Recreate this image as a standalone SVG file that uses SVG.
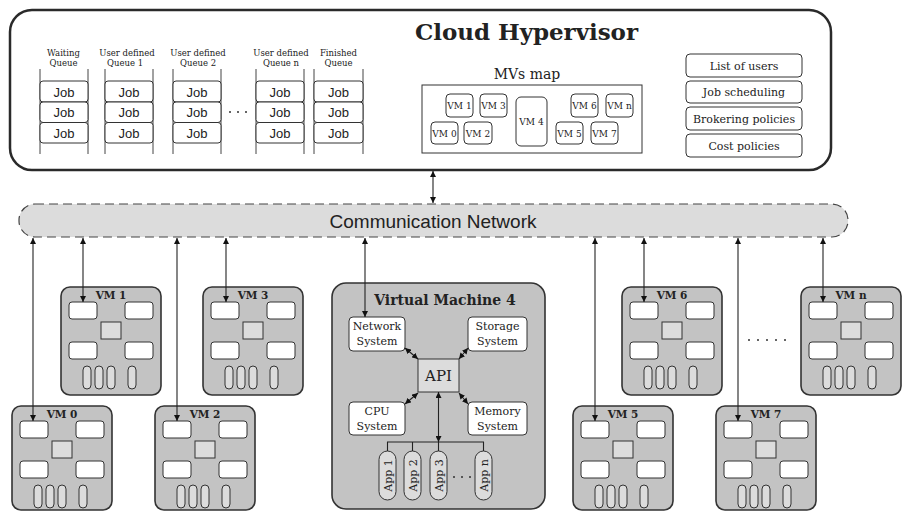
<svg xmlns="http://www.w3.org/2000/svg" xmlns:xlink="http://www.w3.org/1999/xlink" width="903" height="511" viewBox="0 0 903 511">
<style>
.serif{font-family:"DejaVu Serif","Liberation Serif",serif;fill:#222}
.sans{font-family:"Liberation Sans",Arial,sans-serif;fill:#222}
.bold{font-family:"DejaVu Serif","Liberation Serif",serif;font-weight:bold;fill:#222}
.hv{fill:#fff;stroke:#2a2a2a;stroke-width:2.5}
.job{fill:#fff;stroke:#333;stroke-width:1}
.qline{stroke:#444;stroke-width:1;fill:none}
.box{fill:#fff;stroke:#333;stroke-width:1}
.vm{fill:#c3c3c3;stroke:#333;stroke-width:1.6}
.w{fill:#fff;stroke:#333;stroke-width:1}
.g{fill:#dcdcdc;stroke:#333;stroke-width:1}
.net{fill:#dcdcdc;stroke:#444;stroke-width:1.2;stroke-dasharray:9 5}
.conn{stroke:#222;stroke-width:1.1;fill:none}
.dots{stroke:#333;stroke-width:1.3;fill:none}
</style>
<defs>
<marker id="ah" viewBox="0 0 10 10" refX="10" refY="5" markerWidth="6" markerHeight="6" markerUnits="userSpaceOnUse" orient="auto-start-reverse">
<path d="M0,0 L10,5 L0,10 z" fill="#111"/>
</marker>
<g id="vminner">
<rect class="w" x="8" y="15" width="28" height="17" rx="3"/>
<rect class="w" x="64" y="15" width="28" height="17" rx="3"/>
<rect class="g" x="40" y="35" width="20" height="17"/>
<rect class="w" x="8" y="55" width="28" height="17" rx="3"/>
<rect class="w" x="64" y="55" width="28" height="17" rx="3"/>
<rect class="g" x="22" y="79" width="8" height="23" rx="4"/>
<rect class="g" x="34" y="79" width="8" height="23" rx="4"/>
<rect class="g" x="46" y="79" width="8" height="23" rx="4"/>
<rect class="g" x="67" y="79" width="8" height="23" rx="4"/>
</g>
</defs>

<g id="hypervisor">
<rect class="hv" x="10" y="10" width="821" height="160" rx="22"/>
<text class="bold" x="415" y="40" font-size="23" textLength="223" lengthAdjust="spacing">Cloud Hypervisor</text>
</g>

<g id="queues">
<g id="q-waiting">
<text class="serif" font-size="8.5" text-anchor="middle" x="63.5" y="56">Waiting</text>
<text class="serif" font-size="8.5" text-anchor="middle" x="63.5" y="66">Queue</text>
<line class="qline" x1="40" y1="69" x2="40" y2="154"/><line class="qline" x1="88" y1="69" x2="88" y2="154"/>
<rect class="job" x="40" y="81" width="48" height="21" rx="3"/><rect class="job" x="40" y="102" width="48" height="20.5" rx="3"/><rect class="job" x="40" y="122.5" width="48" height="20.5" rx="3"/>
<text class="sans" font-size="13" text-anchor="middle" x="64" y="96.5">Job</text><text class="sans" font-size="13" text-anchor="middle" x="64" y="117">Job</text><text class="sans" font-size="13" text-anchor="middle" x="64" y="137.5">Job</text>
</g>
<g id="q-user1">
<text class="serif" font-size="8.5" text-anchor="middle" x="127" y="56">User defined</text>
<text class="serif" font-size="8.5" text-anchor="middle" x="125" y="66">Queue 1</text>
<line class="qline" x1="105" y1="69" x2="105" y2="154"/><line class="qline" x1="153" y1="69" x2="153" y2="154"/>
<rect class="job" x="105" y="81" width="48" height="21" rx="3"/><rect class="job" x="105" y="102" width="48" height="20.5" rx="3"/><rect class="job" x="105" y="122.5" width="48" height="20.5" rx="3"/>
<text class="sans" font-size="13" text-anchor="middle" x="129" y="96.5">Job</text><text class="sans" font-size="13" text-anchor="middle" x="129" y="117">Job</text><text class="sans" font-size="13" text-anchor="middle" x="129" y="137.5">Job</text>
</g>
<g id="q-user2">
<text class="serif" font-size="8.5" text-anchor="middle" x="198" y="56">User defined</text>
<text class="serif" font-size="8.5" text-anchor="middle" x="198" y="66">Queue 2</text>
<line class="qline" x1="173" y1="69" x2="173" y2="154"/><line class="qline" x1="221" y1="69" x2="221" y2="154"/>
<rect class="job" x="173" y="81" width="48" height="21" rx="3"/><rect class="job" x="173" y="102" width="48" height="20.5" rx="3"/><rect class="job" x="173" y="122.5" width="48" height="20.5" rx="3"/>
<text class="sans" font-size="13" text-anchor="middle" x="197" y="96.5">Job</text><text class="sans" font-size="13" text-anchor="middle" x="197" y="117">Job</text><text class="sans" font-size="13" text-anchor="middle" x="197" y="137.5">Job</text>
</g>
<line class="dots" x1="229" y1="112" x2="248" y2="112" stroke-dasharray="2 6"/>
<g id="q-usern">
<text class="serif" font-size="8.5" text-anchor="middle" x="281" y="56">User defined</text>
<text class="serif" font-size="8.5" text-anchor="middle" x="281" y="66">Queue n</text>
<line class="qline" x1="256" y1="69" x2="256" y2="154"/><line class="qline" x1="304" y1="69" x2="304" y2="154"/>
<rect class="job" x="256" y="81" width="48" height="21" rx="3"/><rect class="job" x="256" y="102" width="48" height="20.5" rx="3"/><rect class="job" x="256" y="122.5" width="48" height="20.5" rx="3"/>
<text class="sans" font-size="13" text-anchor="middle" x="280" y="96.5">Job</text><text class="sans" font-size="13" text-anchor="middle" x="280" y="117">Job</text><text class="sans" font-size="13" text-anchor="middle" x="280" y="137.5">Job</text>
</g>
<g id="q-finished">
<text class="serif" font-size="8.5" text-anchor="middle" x="338.5" y="56">Finished</text>
<text class="serif" font-size="8.5" text-anchor="middle" x="338.5" y="66">Queue</text>
<line class="qline" x1="314" y1="69" x2="314" y2="154"/><line class="qline" x1="363" y1="69" x2="363" y2="154"/>
<rect class="job" x="314" y="81" width="49" height="21" rx="3"/><rect class="job" x="314" y="102" width="49" height="20.5" rx="3"/><rect class="job" x="314" y="122.5" width="49" height="20.5" rx="3"/>
<text class="sans" font-size="13" text-anchor="middle" x="338.5" y="96.5">Job</text><text class="sans" font-size="13" text-anchor="middle" x="338.5" y="117">Job</text><text class="sans" font-size="13" text-anchor="middle" x="338.5" y="137.5">Job</text>
</g>
</g>

<g id="vms-map">
<text class="serif" font-size="14" text-anchor="middle" x="527" y="79">MVs map</text>
<rect x="422" y="85" width="220" height="68" fill="#fff" stroke="#333" stroke-width="1"/>
<rect class="box" x="446" y="94" width="27" height="23" rx="4"/><text class="serif" font-size="9" text-anchor="middle" x="459.5" y="109">VM 1</text>
<rect class="box" x="480" y="94" width="27" height="23" rx="4"/><text class="serif" font-size="9" text-anchor="middle" x="493.5" y="109">VM 3</text>
<rect class="box" x="431" y="122" width="27" height="22" rx="4"/><text class="serif" font-size="9" text-anchor="middle" x="444.5" y="136.5">VM 0</text>
<rect class="box" x="464" y="122" width="28" height="22" rx="4"/><text class="serif" font-size="9" text-anchor="middle" x="478" y="136.5">VM 2</text>
<rect class="box" x="516" y="97" width="31" height="49" rx="5"/><text class="serif" font-size="9" text-anchor="middle" x="531.5" y="125">VM 4</text>
<rect class="box" x="571" y="94" width="27" height="23" rx="4"/><text class="serif" font-size="9" text-anchor="middle" x="584.5" y="109">VM 6</text>
<rect class="box" x="606" y="94" width="27" height="23" rx="4"/><text class="serif" font-size="9" text-anchor="middle" x="619.5" y="109">VM n</text>
<rect class="box" x="556" y="122" width="27" height="22" rx="4"/><text class="serif" font-size="9" text-anchor="middle" x="569.5" y="136.5">VM 5</text>
<rect class="box" x="591" y="122" width="27" height="22" rx="4"/><text class="serif" font-size="9" text-anchor="middle" x="604.5" y="136.5">VM 7</text>
</g>

<g id="policies">
<rect class="box" x="686" y="54" width="116" height="23" rx="4"/><text class="serif" font-size="11" text-anchor="middle" x="744" y="69.5">List of users</text>
<rect class="box" x="686" y="81" width="116" height="22" rx="4"/><text class="serif" font-size="11" text-anchor="middle" x="744" y="96">Job scheduling</text>
<rect class="box" x="686" y="107" width="116" height="23" rx="4"/><text class="serif" font-size="11" text-anchor="middle" x="744" y="122.5">Brokering policies</text>
<rect class="box" x="686" y="134" width="116" height="23" rx="4"/><text class="serif" font-size="11" text-anchor="middle" x="744" y="149.5">Cost policies</text>
</g>

<g id="network">
<rect class="net" x="19" y="204" width="829" height="33" rx="16"/>
<text class="sans" font-size="19" text-anchor="middle" x="433" y="228">Communication Network</text>
</g>

<g id="vm1"><rect class="vm" x="61" y="287" width="100" height="108" rx="9"/><use xlink:href="#vminner" x="61" y="287"/><text class="bold" font-size="10.5" text-anchor="middle" x="111" y="299">VM 1</text></g>
<g id="vm3"><rect class="vm" x="203" y="287" width="100" height="108" rx="9"/><use xlink:href="#vminner" x="203" y="287"/><text class="bold" font-size="10.5" text-anchor="middle" x="253" y="299">VM 3</text></g>
<g id="vm0"><rect class="vm" x="12" y="406" width="100" height="104" rx="9"/><use xlink:href="#vminner" x="12" y="406"/><text class="bold" font-size="10.5" text-anchor="middle" x="62" y="418">VM 0</text></g>
<g id="vm2"><rect class="vm" x="155" y="406" width="100" height="104" rx="9"/><use xlink:href="#vminner" x="155" y="406"/><text class="bold" font-size="10.5" text-anchor="middle" x="205" y="418">VM 2</text></g>
<g id="vm6"><rect class="vm" x="622" y="287" width="100" height="108" rx="9"/><use xlink:href="#vminner" x="622" y="287"/><text class="bold" font-size="10.5" text-anchor="middle" x="672" y="299">VM 6</text></g>
<g id="vmn"><rect class="vm" x="801" y="287" width="100" height="108" rx="9"/><use xlink:href="#vminner" x="801" y="287"/><text class="bold" font-size="10.5" text-anchor="middle" x="851" y="299">VM n</text></g>
<g id="vm5"><rect class="vm" x="573" y="406" width="100" height="104" rx="9"/><use xlink:href="#vminner" x="573" y="406"/><text class="bold" font-size="10.5" text-anchor="middle" x="623" y="418">VM 5</text></g>
<g id="vm7"><rect class="vm" x="716" y="406" width="100" height="104" rx="9"/><use xlink:href="#vminner" x="716" y="406"/><text class="bold" font-size="10.5" text-anchor="middle" x="766" y="418">VM 7</text></g>
<line class="dots" x1="748" y1="340" x2="787" y2="340" stroke-dasharray="2 7"/>

<g id="vm4">
<rect class="vm" x="332" y="283" width="213" height="226" rx="14"/>
<text class="bold" font-size="14" text-anchor="middle" x="445" y="305">Virtual Machine 4</text>
<g id="net-sys"><rect class="w" x="349" y="317" width="56" height="34" rx="4"/><text class="serif" font-size="11" text-anchor="middle" x="377" y="330">Network</text><text class="serif" font-size="11" text-anchor="middle" x="377" y="345">System</text></g>
<g id="sto-sys"><rect class="w" x="468" y="317" width="59" height="34" rx="4"/><text class="serif" font-size="11" text-anchor="middle" x="497.5" y="330">Storage</text><text class="serif" font-size="11" text-anchor="middle" x="497.5" y="345">System</text></g>
<g id="api"><rect class="g" x="418" y="359" width="41" height="33"/><text class="serif" font-size="15" text-anchor="middle" x="438.5" y="381">API</text></g>
<g id="cpu-sys"><rect class="w" x="349" y="402" width="56" height="33" rx="4"/><text class="serif" font-size="11" text-anchor="middle" x="377" y="415">CPU</text><text class="serif" font-size="11" text-anchor="middle" x="377" y="430">System</text></g>
<g id="mem-sys"><rect class="w" x="468" y="402" width="59" height="33" rx="4"/><text class="serif" font-size="11" text-anchor="middle" x="497.5" y="415">Memory</text><text class="serif" font-size="11" text-anchor="middle" x="497.5" y="430">System</text></g>
<g id="apps">
<rect class="g" x="379" y="451" width="17" height="49" rx="8.5"/><text class="serif" font-size="11" text-anchor="middle" transform="translate(391.5,475.5) rotate(-90)">App 1</text>
<rect class="g" x="404" y="451" width="17" height="49" rx="8.5"/><text class="serif" font-size="11" text-anchor="middle" transform="translate(416.5,475.5) rotate(-90)">App 2</text>
<rect class="g" x="430" y="451" width="17" height="49" rx="8.5"/><text class="serif" font-size="11" text-anchor="middle" transform="translate(442.5,475.5) rotate(-90)">App 3</text>
<rect class="g" x="475" y="451" width="17" height="49" rx="8.5"/><text class="serif" font-size="11" text-anchor="middle" transform="translate(487.5,475.5) rotate(-90)">App n</text>
<line class="dots" x1="453" y1="477" x2="472" y2="477" stroke-dasharray="2 6"/>
</g>
</g>

<g id="connectors">
<line class="conn" x1="433" y1="171" x2="433" y2="203" marker-start="url(#ah)" marker-end="url(#ah)"/>
<line class="conn" x1="33" y1="238" x2="33" y2="421" marker-start="url(#ah)" marker-end="url(#ah)"/>
<line class="conn" x1="83" y1="238" x2="83" y2="302" marker-start="url(#ah)" marker-end="url(#ah)"/>
<line class="conn" x1="177" y1="238" x2="177" y2="421" marker-start="url(#ah)" marker-end="url(#ah)"/>
<line class="conn" x1="226" y1="238" x2="226" y2="302" marker-start="url(#ah)" marker-end="url(#ah)"/>
<line class="conn" x1="365" y1="238" x2="365" y2="317" marker-start="url(#ah)" marker-end="url(#ah)"/>
<line class="conn" x1="595" y1="238" x2="595" y2="421" marker-start="url(#ah)" marker-end="url(#ah)"/>
<line class="conn" x1="644" y1="238" x2="644" y2="302" marker-start="url(#ah)" marker-end="url(#ah)"/>
<line class="conn" x1="738" y1="238" x2="738" y2="421" marker-start="url(#ah)" marker-end="url(#ah)"/>
<line class="conn" x1="823" y1="238" x2="823" y2="302" marker-start="url(#ah)" marker-end="url(#ah)"/>
<line class="conn" x1="405" y1="348" x2="418" y2="359" marker-start="url(#ah)" marker-end="url(#ah)"/>
<line class="conn" x1="468" y1="348" x2="459" y2="359" marker-start="url(#ah)" marker-end="url(#ah)"/>
<line class="conn" x1="405" y1="404" x2="418" y2="393" marker-start="url(#ah)" marker-end="url(#ah)"/>
<line class="conn" x1="468" y1="404" x2="459" y2="393" marker-start="url(#ah)" marker-end="url(#ah)"/>
<line class="conn" x1="438.5" y1="392" x2="438.5" y2="442" marker-start="url(#ah)" marker-end="url(#ah)"/>
<path class="conn" d="M387.5,451 V442 H483.5 V451 M412.5,442 V451 M438.5,442 V451"/>
</g>
</svg>
